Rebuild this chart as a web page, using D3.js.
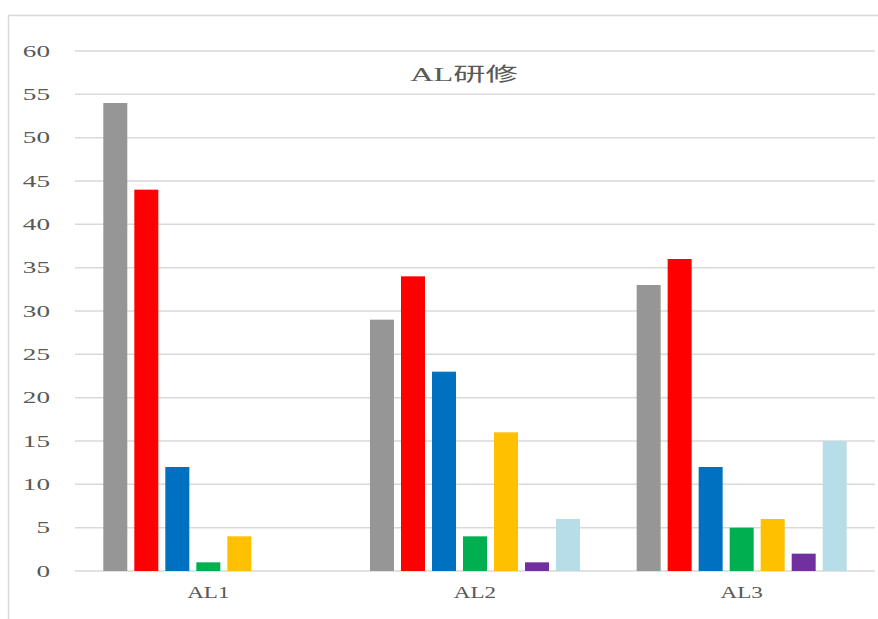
<!DOCTYPE html>
<html>
<head>
<meta charset="utf-8">
<script src="https://cdn.jsdelivr.net/npm/d3@7"></script>
<style>
  body { margin: 0; background: #fff; }
  text { font-family: "Liberation Serif", "Noto Sans CJK JP", serif; fill: #595959; }
</style>
</head>
<body>
<main></main>
<script>
// Data
const categories = ["AL1", "AL2", "AL3"];
const seriesNames = ["s1", "s2", "s3", "s4", "s5", "s6", "s7"];
const seriesColors = ["#969696", "#ff0000", "#0070c0", "#00b050", "#ffc000", "#7030a0", "#b7dde8"];
const values = [
  [54, 44, 12, 1, 4, 0, 0],
  [29, 34, 23, 4, 16, 1, 6],
  [33, 36, 12, 5, 6, 2, 15]
];
const yTicks = [0, 5, 10, 15, 20, 25, 30, 35, 40, 45, 50, 55, 60];
const title = "AL研修";

// Dimensions
const w = 878;
const h = 619;
const plotLeft = 75;
const plotRight = 875;
const plotTop = 51;
const plotBottom = 571;
const stretch = 1.7;

const svg = d3
  .select("main")
  .append("svg")
  .attr("width", w)
  .attr("height", h)
  .attr("viewBox", `0 0 ${w} ${h}`);

// Frame
svg
  .append("path")
  .attr("d", `M8.5,${h} V15.5 H${w}`)
  .attr("fill", "none")
  .attr("stroke", "#d9d9d9")
  .attr("stroke-width", 1.5);

// Scales
const x0 = d3.scaleBand().domain(categories).range([plotLeft, plotRight]);
const x1 = d3
  .scaleBand()
  .domain(seriesNames)
  .range([0, x0.bandwidth()])
  .paddingInner(0.226)
  .paddingOuter(0.913);
const y = d3.scaleLinear().domain([0, 60]).range([plotBottom, plotTop]);

// Grid lines
svg
  .append("g")
  .selectAll("line")
  .data(yTicks)
  .enter()
  .append("line")
  .attr("x1", plotLeft)
  .attr("x2", plotRight)
  .attr("y1", (d) => y(d))
  .attr("y2", (d) => y(d))
  .attr("stroke", "#d9d9d9")
  .attr("stroke-width", 1.5);

// Y tick labels
svg
  .append("g")
  .selectAll("text")
  .data(yTicks)
  .enter()
  .append("text")
  .attr("transform", (d) => `translate(50, ${y(d)}) scale(${stretch}, 1)`)
  .attr("text-anchor", "end")
  .attr("dy", "0.35em")
  .attr("font-size", 16)
  .text((d) => d);

// Bars
const groups = svg
  .append("g")
  .selectAll("g")
  .data(categories)
  .enter()
  .append("g")
  .attr("transform", (d) => `translate(${x0(d)}, 0)`);

groups
  .selectAll("rect")
  .data((d, i) => values[i].map((v, j) => ({ key: seriesNames[j], value: v, color: seriesColors[j] })))
  .enter()
  .append("rect")
  .attr("x", (d) => x1(d.key))
  .attr("y", (d) => y(d.value))
  .attr("width", x1.bandwidth())
  .attr("height", (d) => y(0) - y(d.value))
  .attr("fill", (d) => d.color);

// Category labels
svg
  .append("g")
  .selectAll("text")
  .data(categories)
  .enter()
  .append("text")
  .attr("transform", (d) => `translate(${x0(d) + x0.bandwidth() / 2}, 598) scale(${stretch * 0.85}, 1)`)
  .attr("text-anchor", "middle")
  .attr("font-size", 16)
  .text((d) => d);

// Title
svg
  .append("text")
  .attr("transform", `translate(464, 81) scale(${stretch}, 1)`)
  .attr("text-anchor", "middle")
  .attr("font-size", 19)
  .text(title);
</script>
</body>
</html>
